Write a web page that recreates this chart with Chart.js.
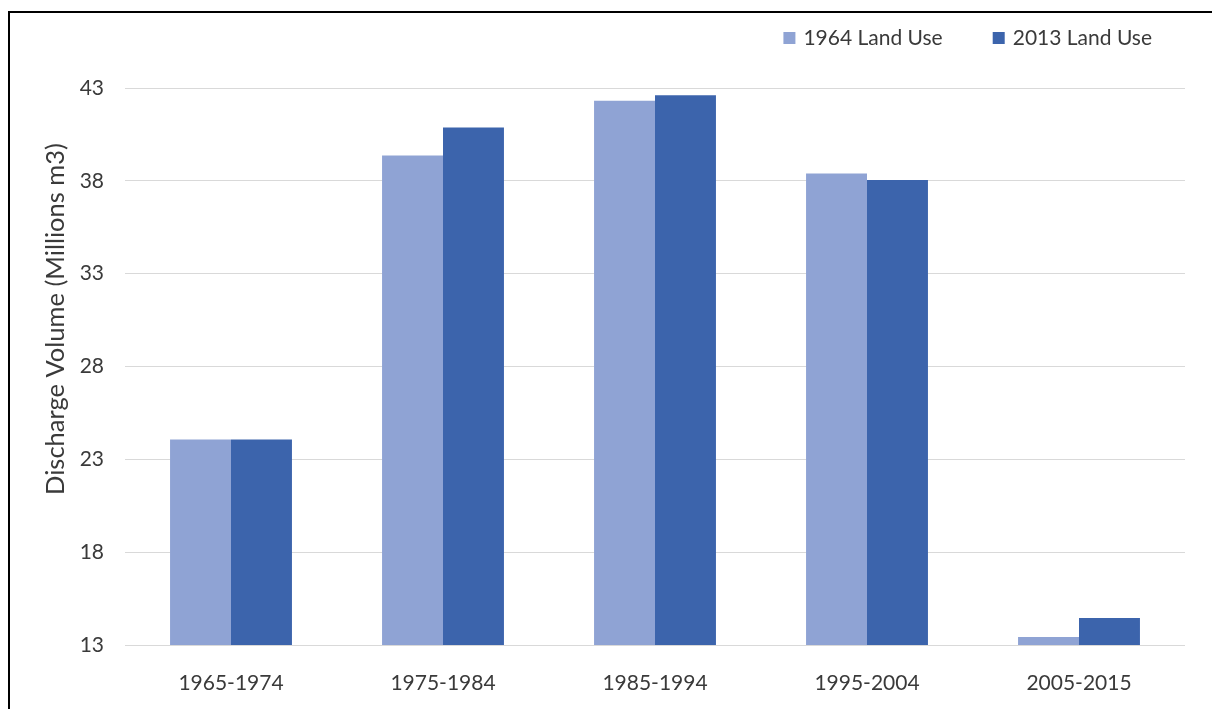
<!DOCTYPE html>
<html>
<head>
<meta charset="utf-8">
<script src="https://cdn.jsdelivr.net/npm/chart.js@4"></script>
<style>
  html, body { margin: 0; padding: 0; background: #fff; overflow: hidden; }
  #wrap { position: relative; width: 1212px; height: 709px; }
  #c { position: absolute; left: 0; top: 0; }
  #frame { position: absolute; left: 8px; top: 11px; width: 1300px; height: 800px;
           border-left: 2px solid #000; border-top: 2px solid #000; pointer-events: none; }
</style>
</head>
<body>
<div id="wrap">
  <canvas id="c" width="1212" height="709"></canvas>
  <div id="frame"></div>
</div>
<script>
// Decadal discharge volume under two land-use scenarios
const periods = ['1965-1974', '1975-1984', '1985-1994', '1995-2004', '2005-2015'];
const landUse1964 = [24.07, 39.36, 42.32, 38.39, 13.43];
const landUse2013 = [24.07, 40.87, 42.61, 38.04, 14.45];
const yTicks = [13, 18, 23, 28, 33, 38, 43];
const seriesNames = ['1964 Land Use', '2013 Land Use'];
const yTitle = 'Discharge Volume (Millions m3)';

const FONT = 'Lato, "Open Sans", sans-serif';
const TEXT = '#3a3a3a';

// Legend drawn top-right, built from the chart's own datasets
const cornerLegend = {
  id: 'cornerLegend',
  afterDraw(chart, args, opts) {
    const ctx = chart.ctx;
    ctx.save();
    ctx.font = opts.size + 'px ' + FONT;
    ctx.textBaseline = 'middle';
    let x = opts.right;
    const ds = chart.data.datasets;
    for (let i = ds.length - 1; i >= 0; i--) {
      const w = ctx.measureText(ds[i].label).width;
      x -= w;
      ctx.fillStyle = opts.color;
      ctx.fillText(ds[i].label, x, opts.y);
      x -= opts.textGap + opts.box;
      ctx.fillStyle = ds[i].backgroundColor;
      ctx.fillRect(x, opts.y - opts.box / 2, opts.box, opts.box);
      x -= opts.itemGap;
    }
    ctx.restore();
  }
};

// Rotated value-axis caption, placed a little above the plot's middle
const axisCaption = {
  id: 'axisCaption',
  afterDraw(chart, args, opts) {
    const ctx = chart.ctx;
    ctx.save();
    ctx.translate(opts.x, opts.y);
    ctx.rotate(-Math.PI / 2);
    ctx.font = opts.size + 'px ' + FONT;
    ctx.fillStyle = opts.color;
    ctx.textAlign = 'center';
    ctx.textBaseline = 'middle';
    ctx.fillText(opts.text, 0, 0);
    ctx.restore();
  }
};

function draw() {
  new Chart(document.getElementById('c'), {
    type: 'bar',
    data: {
      labels: periods,
      datasets: [
        { label: seriesNames[0], data: landUse1964, backgroundColor: '#8fa3d4', borderWidth: 0 },
        { label: seriesNames[1], data: landUse2013, backgroundColor: '#3c64ac', borderWidth: 0 }
      ]
    },
    options: {
      responsive: false,
      animation: false,
      layout: { padding: { top: 88, right: 27, bottom: 0, left: 0 } },
      datasets: { bar: { categoryPercentage: 0.575, barPercentage: 1.0 } },
      plugins: {
        legend: { display: false },
        tooltip: { enabled: false },
        cornerLegend: { right: 1152, y: 38, size: 21, box: 12, textGap: 8, itemGap: 50, color: TEXT },
        axisCaption: { text: yTitle, x: 56, y: 319, size: 25.5, color: TEXT }
      },
      scales: {
        x: {
          grid: { display: false },
          border: { display: false },
          ticks: { font: { family: FONT, size: 21 }, color: TEXT, padding: 18, maxRotation: 0 },
          afterFit(scale) { scale.height = 64; }
        },
        y: {
          min: 13,
          max: 43,
          afterBuildTicks(scale) { scale.ticks = yTicks.map(v => ({ value: v })); },
          grid: { color: '#d9d9d9', lineWidth: 1, drawTicks: false },
          border: { display: false },
          ticks: { font: { family: FONT, size: 21 }, color: TEXT, padding: 21 },
          afterFit(scale) { scale.width = 125; }
        }
      }
    },
    plugins: [cornerLegend, axisCaption]
  });
}

if (document.fonts && document.fonts.load) {
  document.fonts.load('21px Lato').then(draw, draw);
} else {
  draw();
}
</script>
</body>
</html>
